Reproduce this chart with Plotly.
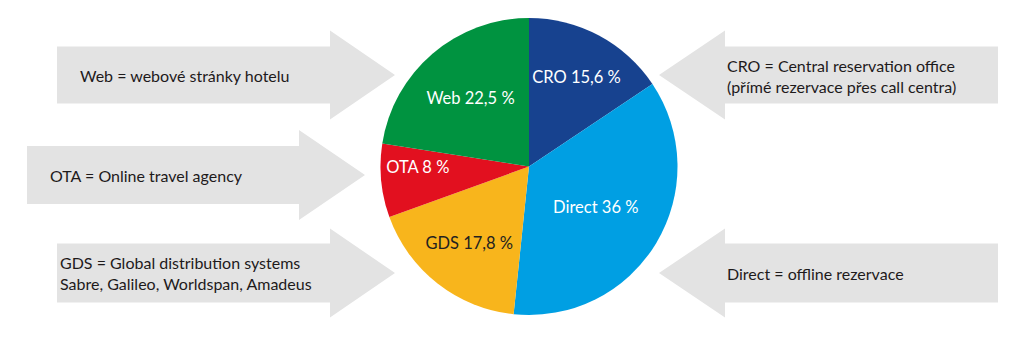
import plotly.graph_objects as go

# Data
channels = ["CRO", "Direct", "GDS", "OTA", "Web"]
shares = [15.6, 36, 17.8, 8, 22.5]
colors = ["#17428f", "#009fe3", "#f8b51c", "#e2101f", "#009340"]
label_font_colors = ["white", "white", "#231f20", "white", "white"]

legend_texts = [
    "Web = webové stránky hotelu",
    "OTA = Online travel agency",
    "GDS = Global distribution systems<br>Sabre, Galileo, Worldspan, Amadeus",
    "CRO = Central reservation office<br>(přímé rezervace přes call centra)",
    "Direct = offline rezervace",
]

W, H = 1024, 337
FONT = "Lato"

slice_text = [f"{c} {v:g} %".replace(".", ",") for c, v in zip(channels, shares)]

fig = go.Figure()
fig.add_trace(go.Pie(
    labels=channels,
    values=shares,
    text=slice_text,
    textinfo="text",
    textposition="inside",
    insidetextorientation="horizontal",
    sort=False,
    direction="clockwise",
    rotation=0,
    marker=dict(colors=colors, line=dict(width=0)),
    textfont=dict(family=FONT, size=16.5, color=label_font_colors),
    domain=dict(x=[380 / W, 678 / W], y=[(H - 315) / H, (H - 18) / H]),
    showlegend=False,
    hoverinfo="label+percent",
))

# Block arrows (layout geometry, in pixel units of a hidden axis)
def right_arrow(x0, xb, xt, yc, hh, ha):
    return (f"M {x0},{yc-hh} L {xb},{yc-hh} L {xb},{yc-ha} L {xt},{yc} "
            f"L {xb},{yc+ha} L {xb},{yc+hh} L {x0},{yc+hh} Z")

arrows = [
    right_arrow(57, 330, 395, 75, 28.5, 44.5),
    right_arrow(27, 299, 365, 175, 29, 45),
    right_arrow(57, 330, 395, 273, 29.5, 44.5),
    right_arrow(998, 725, 659, 75, 28.5, 44.5),
    right_arrow(998, 725, 659, 273, 29.5, 44.5),
]
for p in arrows:
    fig.add_shape(type="path", path=p, xref="x", yref="y",
                  fillcolor="#e3e3e3", line=dict(width=0), layer="below")

text_pos = [(78, 75), (48, 175), (58, 273), (725, 76), (725, 273)]
for t, (x, y) in zip(legend_texts, text_pos):
    fig.add_annotation(x=x, y=y, xref="x", yref="y", text=t, showarrow=False,
                       xanchor="left", yanchor="middle", align="left",
                       font=dict(family=FONT, size=16, color="#1e1a1b"))

fig.update_xaxes(range=[0, W], visible=False, fixedrange=True)
fig.update_yaxes(range=[H, 0], visible=False, fixedrange=True)
fig.update_layout(
    width=W, height=H,
    margin=dict(l=0, r=0, t=0, b=0),
    paper_bgcolor="white", plot_bgcolor="white",
    separators=", ",
    uniformtext=dict(minsize=10, mode="show"),
)

fig.write_html("out.html", config={"displayModeBar": False})
